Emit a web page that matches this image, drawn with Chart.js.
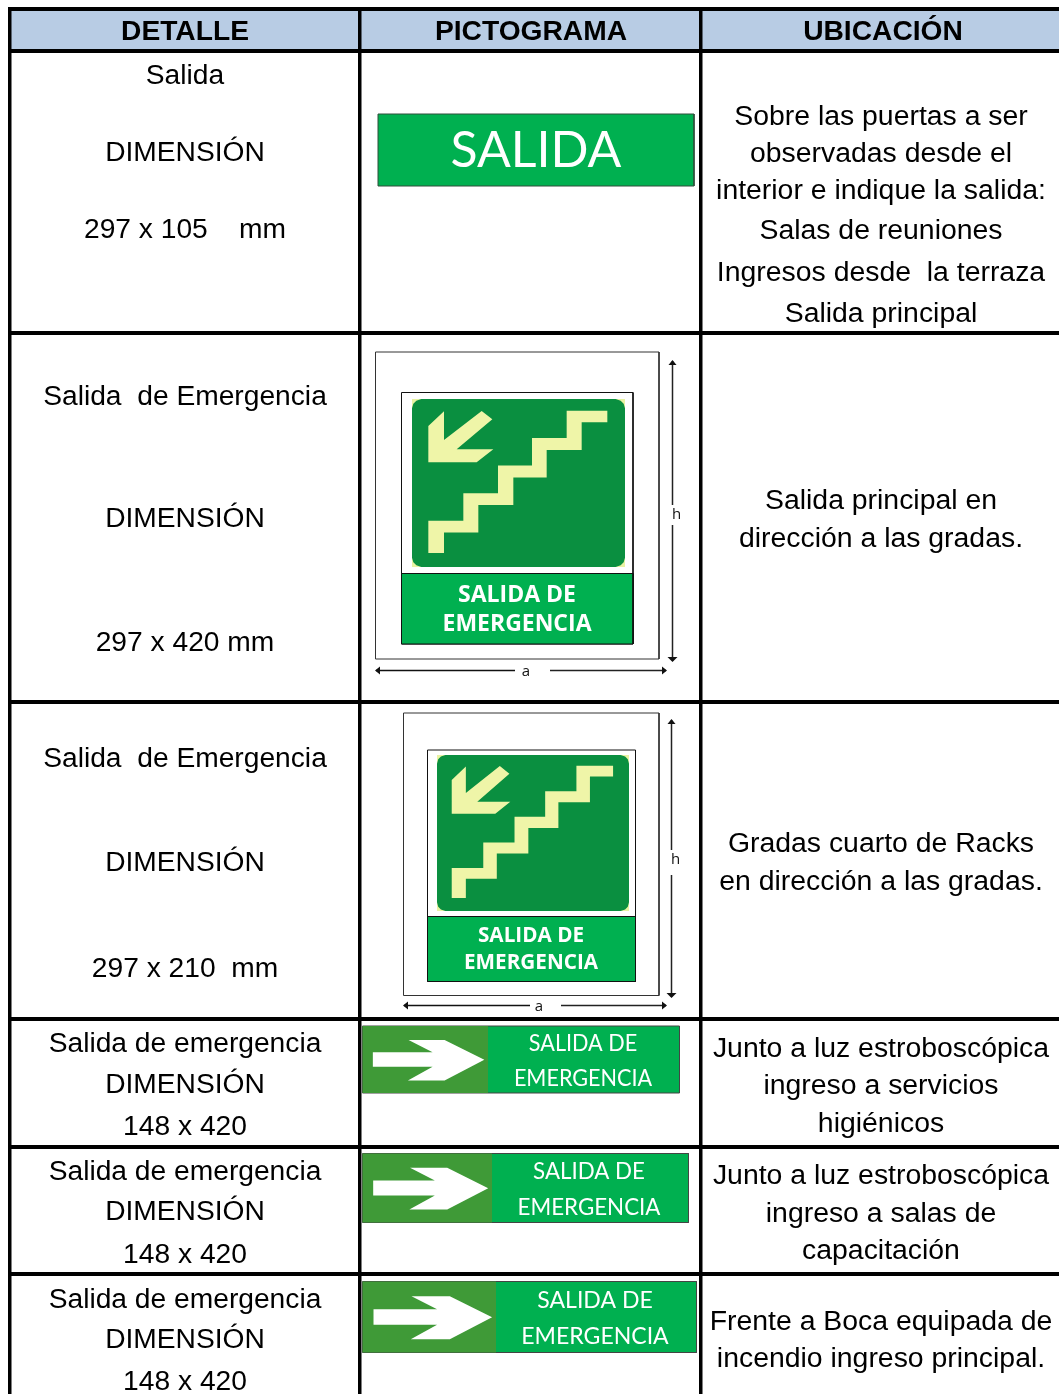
<!DOCTYPE html>
<html>
<head>
<meta charset="utf-8">
<title>Señalización</title>
<script src="https://cdn.jsdelivr.net/npm/chart.js@4/dist/chart.umd.min.js"></script>
<style>
html, body { margin: 0; padding: 0; background: #fff; }
canvas { display: block; }
</style>
</head>
<body>
<canvas id="tabla" width="1059" height="1394"></canvas>
<script>
"use strict";
var headers = ["DETALLE", "PICTOGRAMA", "UBICACIÓN"];
var detalle = [
    ["Salida", "DIMENSIÓN", "297 x 105    mm"],
    ["Salida  de Emergencia", "DIMENSIÓN", "297 x 420 mm"],
    ["Salida  de Emergencia", "DIMENSIÓN", "297 x 210  mm"],
    ["Salida de emergencia", "DIMENSIÓN", "148 x 420"],
    ["Salida de emergencia", "DIMENSIÓN", "148 x 420"],
    ["Salida de emergencia", "DIMENSIÓN", "148 x 420"]
];
var ubicacion = [
    ["Sobre las puertas a ser", "observadas desde el", "interior e indique la salida:", "Salas de reuniones", "Ingresos desde  la terraza", "Salida principal"],
    ["Salida principal en", "dirección a las gradas."],
    ["Gradas cuarto de Racks", "en dirección a las gradas."],
    ["Junto a luz estroboscópica", "ingreso a servicios", "higiénicos"],
    ["Junto a luz estroboscópica", "ingreso a salas de", "capacitación"],
    ["Frente a Boca equipada de", "incendio ingreso principal."]
];

// table rules, in page pixels
var columnEdges = [9.5, 359.5, 700.5];
var rowEdges = [8.5, 51, 332.5, 701.5, 1018.5, 1147, 1273.5];

var headerCenters = [185, 531, 883];
var detalleCenter = 185;
var ubicacionCenter = 881;
var headerY = 32;
var detalleY = [
    [76, 153, 230],
    [397, 519, 643],
    [759, 863, 969],
    [1044, 1085, 1127],
    [1172, 1212, 1255],
    [1300, 1340, 1382]
];
var ubicacionY = [
    [117, 154, 191, 231, 273, 314],
    [501, 539],
    [844, 882],
    [1049, 1086, 1124],
    [1176, 1214, 1251],
    [1322, 1359]
];

var stairBox = [639, 505];
var stairOutline = [[464, 35], [586, 35], [586, 70], [509, 70], [509, 153], [404, 153], [404, 236], [304, 236], [304, 319], [199, 319], [199, 401], [96, 401], [96, 463], [49, 463], [49, 366], [154, 366], [154, 283], [258, 283], [258, 200], [360, 200], [360, 117], [464, 117]];
var stairArrow = [[49, 81], [96, 37], [96, 123], [209, 36], [241, 61], [134, 151], [244, 151], [194, 190], [49, 190]];
var panelOutline = [[28, 0], [611, 0], [626, 5], [635, 14], [639, 28], [639, 477], [635, 491], [626, 500], [611, 505], [28, 505], [13, 500], [4, 491], [0, 477], [0, 28], [4, 14], [13, 5]];
var arrowBox = [376, 202];
var rightArrow = [[138, 42], [246, 42], [365, 102], [246, 164], [136, 164], [210, 123], [31, 123], [31, 79], [210, 79]];
var fullBox = [[0, 0], [1, 0], [1, 1], [0, 1]];

// sign boxes, [left, top, right, bottom]
var salidaSign = [378, 114, 694, 186];
var stairSigns = [
    { outer: [375.5, 352, 659, 659], inner: [401.5, 392.5, 633, 644], panel: [412, 399, 625, 567], caption: [401.5, 573.5, 633, 644], textX: 517, textY: [595, 624], font: 23 },
    { outer: [403.5, 713, 659, 995.5], inner: [427.5, 750, 635.5, 981.5], panel: [437, 755, 629, 911], caption: [427.5, 916.5, 635.5, 981.5], textX: 531, textY: [936, 963], font: 20.7 }
];
var arrowSigns = [
    { sign: [362.5, 1026, 679.5, 1093], split: 488, textX: 583, textY: [1043, 1078], squeeze: 0.9 },
    { sign: [362.5, 1153.5, 688.5, 1222.5], split: 492, textX: 589, textY: [1171, 1207], squeeze: 0.93 },
    { sign: [362.5, 1281.5, 696.5, 1352.5], split: 496, textX: 595, textY: [1300, 1336], squeeze: 0.96 }
];
var dimensionArrows = [
    { v: [672.5, 361, 661], vGap: [505, 525], h: [376, 666, 670.5], hGap: [515, 550], hLabel: [515, 526] },
    { v: [671.5, 720, 997], vGap: [850, 875], h: [404, 666, 1005.5], hGap: [530, 561], hLabel: [863, 539] }
];

var green = "#00b050";
var datasets = [];

function addShape(points, fillColor, lineColor, lineWidth) {
    var closed = points.concat([points[0]]);
    datasets.push({
        data: closed.map(function (p) { return { x: p[0], y: p[1] }; }),
        showLine: true,
        fill: fillColor ? "shape" : false,
        backgroundColor: fillColor || "transparent",
        borderColor: lineColor || "transparent",
        borderWidth: lineWidth || 0,
        pointRadius: 0,
        tension: 0
    });
}

function addLine(points, color, width) {
    datasets.push({
        data: points.map(function (p) { return { x: p[0], y: p[1] }; }),
        showLine: true,
        fill: false,
        borderColor: color,
        borderWidth: width,
        pointRadius: 0,
        tension: 0
    });
}

function place(outline, art, box) {
    return outline.map(function (p) {
        return [box[0] + p[0] / art[0] * (box[2] - box[0]), box[1] + p[1] / art[1] * (box[3] - box[1])];
    });
}

function rect(box, fillColor, lineColor, lineWidth) {
    addShape(place(fullBox, [1, 1], box), fillColor, lineColor, lineWidth);
}

// header band
rect([columnEdges[0], rowEdges[0], 1059, rowEdges[1]], "#b8cce4");

// SALIDA
rect(salidaSign, green, "#2f4f3a", 1);

// stair signs
stairSigns.forEach(function (s) {
    rect(s.outer, "#ffffff", "#333333", 1);
    rect(s.inner, "#ffffff", "#111111", 1);
    rect(s.panel, "#e9f3a3");
    addShape(place(panelOutline, stairBox, s.panel), "#0a8f40");
    addShape(place(stairOutline, stairBox, s.panel), "#eff5a8");
    addShape(place(stairArrow, stairBox, s.panel), "#eff5a8");
    rect(s.caption, green, "#111111", 1);
});

// arrow signs
arrowSigns.forEach(function (s) {
    var pane = [s.sign[0], s.sign[1], s.split, s.sign[3]];
    rect(s.sign, green, "#444444", 1);
    rect(pane, "#3f9a37");
    addShape(place(rightArrow, arrowBox, pane), "#ffffff");
});

// a and h dimension arrows
dimensionArrows.forEach(function (d) {
    var x = d.v[0], y = d.h[2];
    addLine([[x, d.v[1]], [x, d.vGap[0]]], "#222222", 1.5);
    addLine([[x, d.vGap[1]], [x, d.v[2]]], "#222222", 1.5);
    addShape([[x, d.v[1] - 1], [x + 4, d.v[1] + 4], [x - 4, d.v[1] + 4]], "#111111");
    addShape([[x, d.v[2] + 1], [x + 5, d.v[2] - 4], [x - 5, d.v[2] - 4]], "#111111");
    addLine([[d.h[0], y], [d.hGap[0], y]], "#111111", 1.5);
    addLine([[d.hGap[1], y], [d.h[1], y]], "#222222", 1.5);
    addShape([[d.h[0] - 1, y], [d.h[0] + 4, y - 4], [d.h[0] + 4, y + 4]], "#111111");
    addShape([[d.h[1] + 1, y], [d.h[1] - 4, y - 4], [d.h[1] - 4, y + 4]], "#111111");
});

// datasets paint last-to-first, so the first pushed has to be at the bottom
datasets.forEach(function (d, i) { d.order = datasets.length - i; });

var cellText = {
    id: "cellText",
    afterDatasetsDraw: function (chart) {
        var ctx = chart.ctx, xs = chart.scales.x, ys = chart.scales.y;
        function put(text, x, y, font, color, squeeze) {
            ctx.save();
            ctx.font = font;
            ctx.fillStyle = color;
            ctx.translate(xs.getPixelForValue(x), ys.getPixelForValue(y));
            ctx.scale(squeeze || 1, 1);
            ctx.fillText(text, 0, 0);
            ctx.restore();
        }
        var bodyLeft = '28.2px "Liberation Sans"';
        var bodyRight = '28.4px "Liberation Sans"';
        ctx.save();
        ctx.textAlign = "center";
        ctx.textBaseline = "middle";
        headers.forEach(function (h, i) {
            put(h, headerCenters[i], headerY, 'bold 28.2px "Liberation Sans"', "#000000");
        });
        detalle.forEach(function (lines, r) {
            lines.forEach(function (t, i) { put(t, detalleCenter, detalleY[r][i], bodyLeft, "#000000"); });
        });
        ubicacion.forEach(function (lines, r) {
            lines.forEach(function (t, i) { put(t, ubicacionCenter, ubicacionY[r][i], bodyRight, "#000000"); });
        });
        put("SALIDA", 536, 151, '50px Lato', "#ffffff");
        stairSigns.forEach(function (s) {
            var f = "bold " + s.font + 'px "Open Sans"';
            put("SALIDA DE", s.textX, s.textY[0], f, "#ffffff");
            put("EMERGENCIA", s.textX, s.textY[1], f, "#ffffff");
        });
        arrowSigns.forEach(function (s) {
            put("SALIDA DE", s.textX, s.textY[0], "24px Lato", "#ffffff", s.squeeze);
            put("EMERGENCIA", s.textX, s.textY[1], "24px Lato", "#ffffff", s.squeeze);
        });
        dimensionArrows.forEach(function (d) {
            put("h", d.v[0] + 4, d.vGap[0] + 10, '15px "Open Sans"', "#111111");
            put("a", d.hLabel[1], d.h[2] + 1, '15px "Open Sans"', "#111111");
        });
        ctx.restore();
    }
};

function ruleAxis(min, max, edges, width, reverse) {
    return {
        type: "linear",
        min: min,
        max: max,
        reverse: reverse,
        border: { display: false },
        ticks: { display: false },
        grid: { color: "#000000", lineWidth: width, drawTicks: false, z: 1 },
        afterBuildTicks: function (scale) {
            scale.ticks = edges.map(function (v) { return { value: v }; });
        }
    };
}

new Chart(document.getElementById("tabla"), {
    type: "scatter",
    data: { datasets: datasets },
    plugins: [cellText],
    options: {
        responsive: false,
        animation: false,
        layout: { padding: { left: 8, top: 7, right: 0, bottom: 0 } },
        plugins: { legend: { display: false }, tooltip: { enabled: false } },
        scales: {
            x: ruleAxis(8, 1059, columnEdges, 3.5, false),
            y: ruleAxis(7, 1394, rowEdges, 4, true)
        }
    }
});
</script>
</body>
</html>
